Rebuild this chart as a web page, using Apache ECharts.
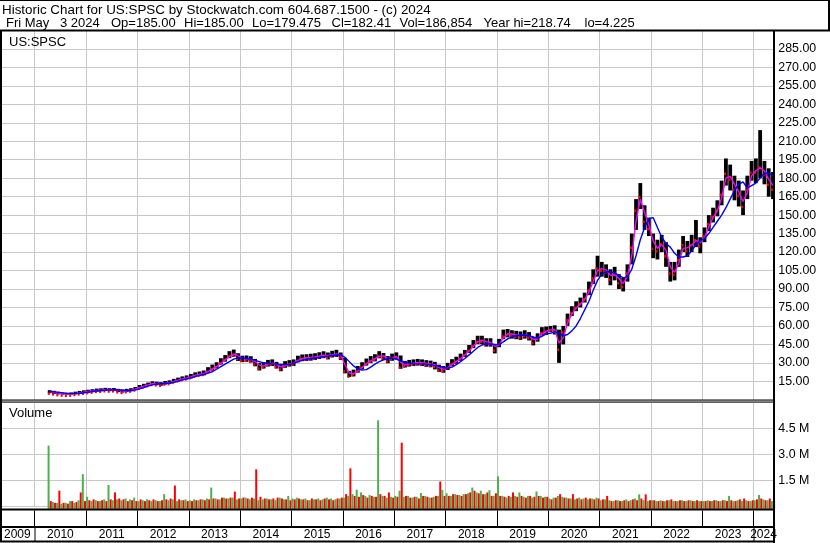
<!DOCTYPE html>
<html>
<head>
<meta charset="utf-8">
<script src="https://cdn.jsdelivr.net/npm/echarts@6/dist/echarts.min.js"></script>
<style>
  html, body { margin: 0; padding: 0; background: #fff; }
  #chart { width: 830px; height: 543px; }
</style>
</head>
<body>
<div id="chart"></div>
<script>
// monthly values, first month is April 2010
const firstMonth = [2010, 4];

// monthly close
const close = [
  6.4, 5.8, 5.2, 4.8, 4.6, 4.8, 5.3, 5.9, 6.4,
  6.9, 7.3, 7.8, 8.0, 8.4, 8.1, 8.3, 7.5, 7.0, 7.6, 8.1, 9.0,
  10.5, 11.6, 12.6, 13.5, 13.2, 12.8, 13.8, 14.2, 15.4, 16.4, 17.3, 18.0,
  19.0, 20.3, 21.0, 21.6, 24.0, 26.0, 27.8, 31.0, 33.5, 36.5, 37.8, 34.5,
  33.0, 33.2, 32.6, 30.0, 26.8, 27.8, 29.6, 30.0, 28.0, 26.0, 28.6, 29.5,
  30.0, 33.0, 34.0, 34.2, 34.5, 35.0, 35.8, 36.5, 35.5, 37.0, 37.6, 35.5,
  24.5, 20.2, 21.5, 24.5, 27.5, 30.5, 32.5, 34.0, 36.5, 35.0, 32.5, 34.5,
  35.5, 27.5, 28.8, 29.6, 30.0, 30.4, 30.0, 29.4, 29.0, 28.0, 25.0, 24.5,
  27.0, 30.0, 32.0, 34.5, 37.5, 41.0, 45.0, 48.5, 48.5, 46.5, 46.5, 41.5,
  46.0, 53.0, 54.0, 53.0, 52.5, 52.0, 53.0, 51.5, 47.5, 50.5, 55.5, 56.0,
  57.5, 57.0, 42.0, 56.0, 66.0, 72.0, 76.0, 79.0, 83.0, 90.0, 100, 108,
  106, 105, 99, 103, 96, 93, 104, 125, 155, 166, 146, 140,
  124, 122, 128, 118, 104, 103, 115, 127, 122, 127, 131, 126,
  134, 144, 150, 155, 168, 185, 180, 172, 167, 158, 172, 186,
  186, 190, 184, 176, 172
];

// monthly high
const high = [
  7.8, 7.3, 6.6, 6.0, 5.8, 6.0, 6.6, 7.2, 7.7,
  8.2, 8.6, 9.1, 9.3, 9.7, 9.4, 9.6, 8.9, 8.4, 8.9, 9.4, 10.4,
  12.0, 13.0, 14.0, 15.0, 14.7, 14.3, 15.3, 15.8, 17.0, 18.0, 19.0, 19.8,
  21.0, 22.3, 23.0, 23.8, 26.5, 28.6, 30.5, 33.8, 36.3, 39.5, 40.8, 37.8,
  35.8, 36.0, 35.4, 33.2, 30.0, 30.6, 32.4, 32.8, 30.8, 29.0, 31.4, 32.2,
  32.8, 35.8, 36.8, 37.0, 37.4, 37.8, 38.6, 39.4, 38.4, 39.8, 40.6, 38.4,
  34.0, 23.5, 24.5, 27.5, 30.5, 33.5, 35.5, 37.0, 39.5, 38.0, 35.5, 37.5,
  38.5, 36.0, 31.6, 32.4, 32.8, 33.2, 32.8, 32.2, 31.8, 30.8, 28.5, 27.5,
  30.0, 33.0, 35.0, 37.5, 40.5, 44.5, 48.5, 52.0, 52.0, 50.0, 50.0, 45.5,
  49.5, 57.0, 57.5, 56.5, 56.0, 55.5, 56.5, 55.0, 51.0, 54.0, 59.0, 59.5,
  60.0, 60.5, 57.0, 60.0, 70.0, 76.0, 80.0, 83.0, 87.0, 96.0, 106, 117,
  112, 110, 106, 108, 102, 99, 110, 135, 163, 176, 158, 148,
  135, 130, 134, 128, 112, 112, 122, 133, 129, 134, 146, 132,
  140, 150, 156, 162, 178, 196, 191, 182, 178, 170, 182, 194,
  196, 219, 194, 188, 185
];

// monthly low
const low = [
  5.3, 4.8, 4.4, 4.25, 4.23, 4.3, 4.5, 5.0, 5.4,
  5.8, 6.2, 6.7, 6.9, 7.2, 7.0, 7.1, 6.3, 5.9, 6.4, 6.9, 7.8,
  9.2, 10.2, 11.2, 12.1, 11.8, 11.4, 12.4, 12.8, 13.9, 14.9, 15.8, 16.5,
  17.3, 18.6, 19.2, 19.8, 22.0, 23.8, 25.6, 28.6, 31.0, 33.8, 35.0, 31.5,
  30.6, 30.8, 30.2, 27.2, 23.8, 25.4, 27.0, 27.4, 25.4, 23.2, 26.0, 27.0,
  27.4, 30.4, 31.4, 31.6, 31.8, 32.4, 33.2, 33.8, 32.8, 34.4, 34.8, 32.4,
  21.5, 18.5, 19.0, 22.0, 24.8, 27.8, 29.8, 31.2, 33.7, 32.2, 29.7, 31.7,
  32.7, 25.2, 26.2, 27.0, 27.4, 27.8, 27.4, 26.8, 26.4, 24.7, 22.7, 22.0,
  24.2, 27.2, 29.2, 31.7, 34.7, 38.0, 42.0, 45.2, 45.2, 43.2, 43.2, 37.7,
  42.7, 49.2, 50.7, 49.7, 49.2, 48.7, 49.7, 48.2, 44.2, 47.2, 52.2, 52.7,
  55.0, 53.0, 30.0, 45.0, 60.0, 68.0, 72.0, 75.0, 79.0, 85.0, 94.0, 100,
  100, 99, 93, 97, 90, 88, 96, 110, 138, 155, 138, 133,
  115, 114, 120, 108, 96, 97, 108, 120, 116, 120, 124, 119,
  128, 137, 144, 149, 158, 174, 170, 162, 157, 150, 163, 178,
  176, 180, 175, 165, 163
];

// short moving average (magenta)
const maFast = [
  6.5, 6.1, 5.5, 5.0, 4.7, 4.7, 5.1, 5.6, 6.2,
  6.7, 7.1, 7.6, 7.9, 8.2, 8.2, 8.2, 7.8, 7.2, 7.4, 7.9, 8.6,
  9.9, 11.1, 12.1, 13.1, 13.3, 13.0, 13.4, 14.0, 14.9, 16.0, 16.9, 17.7,
  18.6, 19.8, 20.7, 21.3, 23.0, 25.1, 27.0, 29.6, 32.4, 35.2, 37.2, 35.8,
  33.6, 33.1, 32.8, 31.1, 28.2, 27.4, 28.8, 29.8, 28.8, 26.8, 27.6, 29.1,
  29.8, 31.8, 33.6, 34.1, 34.4, 34.8, 35.5, 36.2, 35.9, 36.4, 37.3, 36.3,
  28.5, 21.8, 21.0, 23.2, 26.2, 29.2, 31.7, 33.4, 35.5, 35.6, 33.5, 33.8,
  35.2, 30.5, 28.4, 29.3, 29.8, 30.2, 30.2, 29.6, 29.2, 28.4, 26.2, 24.8,
  26.0, 28.8, 31.2, 33.5, 36.4, 39.6, 43.4, 47.0, 48.5, 47.3, 46.5, 43.5,
  44.5, 50.5, 53.6, 53.4, 52.7, 52.2, 52.6, 52.1, 49.0, 49.4, 53.6, 55.8,
  56.8, 57.2, 46.0, 50.5, 62.5, 69.8, 74.5, 77.8, 81.5, 87.5, 96.0, 105,
  106.5, 105.5, 101, 101.5, 98.5, 94.5, 100, 117, 145, 163, 152, 142,
  129, 123, 126, 121.5, 108, 103.5, 111, 123, 123.5, 125.5, 129.5, 127.5,
  131.5, 140.5, 148, 153.5, 164, 180, 181.5, 175, 169, 161, 168, 182,
  186, 188.5, 186, 179, 174
];

// long moving average (blue)
const maSlow = [
  6.6, 6.4, 6.0, 5.6, 5.2, 5.0, 5.0, 5.3, 5.7,
  6.2, 6.7, 7.2, 7.6, 7.9, 8.1, 8.2, 8.0, 7.7, 7.5, 7.6, 8.1,
  8.9, 10.0, 11.1, 12.1, 12.8, 13.1, 13.2, 13.6, 14.3, 15.2, 16.2, 17.0,
  17.8, 18.8, 19.8, 20.6, 21.6, 22.8, 24.8, 27.0, 29.0, 31.0, 33.0, 34.0,
  34.0, 33.5, 32.8, 32.0, 31.0, 30.0, 29.5, 29.2, 29.0, 28.8, 28.6, 28.8,
  29.5, 31.0, 32.0, 32.8, 33.5, 34.0, 34.5, 35.0, 35.5, 36.0, 36.4, 36.5,
  34.5, 31.0, 27.5, 25.0, 24.2, 24.5, 26.5, 29.0, 31.0, 32.5, 33.5, 33.8,
  33.0, 31.5, 30.5, 29.8, 29.3, 29.2, 29.2, 29.0, 28.5, 27.8, 27.2, 26.2,
  25.6, 26.5, 28.5, 31.0, 33.5, 36.5, 39.5, 42.5, 44.5, 45.5, 45.5, 44.8,
  44.8, 47.0, 49.5, 51.2, 52.0, 52.4, 52.6, 52.0, 51.0, 50.0, 51.5, 53.5,
  54.0, 55.3, 54.0, 52.0, 53.0, 56.0, 60.0, 66.0, 73.0, 80.0, 89.0, 97.0,
  102, 104, 104, 103, 101, 99, 100, 106, 117, 130, 140, 147,
  148, 140, 132, 127, 124, 119, 116, 116, 117, 121, 126, 129,
  131, 135, 140, 145, 150, 156, 163, 170, 175, 177, 172, 174,
  176, 180, 184, 184, 182
];

// volume on up days / down days, millions
const volUp = [
  3.5, 0.25, 0.2, 0.15, 0.2, 0.3, 0.2, 0.35, 1.85,
  0.55, 0.3, 0.35, 0.3, 0.4, 1.23, 0.35, 0.4, 0.35, 0.45, 0.4, 0.5,
  0.3, 0.35, 0.4, 0.3, 0.35, 0.3, 0.7, 0.35, 0.4, 0.3, 0.35, 0.4,
  0.35, 0.4, 0.35, 0.4, 0.45, 1.08, 0.45, 0.4, 0.5, 0.45, 0.5, 0.4,
  0.45, 0.5, 0.4, 0.45, 0.35, 0.4, 0.45, 0.4, 0.35, 0.5, 0.4, 0.6,
  0.45, 0.5, 0.4, 0.45, 0.35, 0.4, 0.45, 0.4, 0.5, 0.45, 0.4, 0.45,
  0.5, 0.6, 0.7, 0.96, 0.8, 0.6, 0.65, 0.55, 4.96, 0.6, 0.5, 0.55,
  0.6, 0.9, 0.55, 0.6, 0.5, 0.55, 0.77, 0.6, 0.5, 0.55, 0.6, 0.95,
  0.75, 0.6, 0.7, 0.65, 0.7, 0.75, 1.08, 0.8, 0.9, 0.7, 0.93, 0.6,
  1.73, 0.6, 0.5, 0.55, 0.6, 0.8, 0.55, 0.6, 0.5, 0.86, 0.6, 0.55,
  0.45, 0.5, 0.6, 0.55, 0.5, 0.45, 0.4, 0.5, 0.45, 0.4, 0.45, 0.5,
  0.35, 0.4, 0.35, 0.3, 0.35, 0.3, 0.4, 0.35, 0.45, 0.69, 0.35, 0.3,
  0.35, 0.3, 0.35, 0.3, 0.35, 0.3, 0.3, 0.35, 0.3, 0.35, 0.3, 0.3,
  0.3, 0.35, 0.3, 0.35, 0.3, 0.35, 0.6, 0.3, 0.35, 0.3, 0.35, 0.3,
  0.35, 0.65, 0.4, 0.35, 0.3
];
const volDown = [
  0.3, 0.2, 0.9, 0.2, 0.15, 0.3, 0.25, 0.8, 0.3,
  0.35, 0.4, 0.3, 0.35, 0.3, 0.4, 0.8, 0.45, 0.4, 0.3, 0.35, 0.3,
  0.4, 0.3, 0.35, 0.4, 0.3, 0.35, 0.4, 0.45, 1.2, 0.4, 0.35, 0.3,
  0.3, 0.35, 0.4, 0.35, 0.4, 0.45, 0.4, 0.5, 0.45, 0.5, 0.85, 0.45,
  0.5, 0.45, 0.5, 2.13, 0.55, 0.45, 0.4, 0.45, 0.5, 0.45, 0.4, 0.35,
  0.4, 0.45, 0.4, 0.35, 0.45, 0.4, 0.35, 0.45, 0.4, 0.35, 0.45, 0.5,
  0.7, 2.19, 0.6, 0.55, 0.65, 0.5, 0.6, 0.55, 0.7, 0.6, 0.8, 0.5,
  0.55, 3.67, 0.6, 0.5, 0.55, 0.45, 0.6, 0.55, 0.5, 0.6, 1.43, 0.6,
  0.6, 0.7, 0.65, 0.6, 0.7, 0.8, 0.9, 0.75, 0.7, 0.8, 0.6, 0.75,
  0.6, 0.55, 0.6, 0.8, 0.55, 0.6, 0.5, 0.6, 0.55, 0.6, 0.5, 0.55,
  0.4, 0.5, 0.7, 0.5, 0.45, 0.7, 0.45, 0.4, 0.5, 0.45, 0.4, 0.45,
  0.4, 0.6, 0.3, 0.35, 0.3, 0.35, 0.3, 0.4, 0.35, 0.45, 0.69, 0.35,
  0.35, 0.3, 0.3, 0.35, 0.4, 0.3, 0.35, 0.3, 0.35, 0.3, 0.35, 0.3,
  0.3, 0.3, 0.35, 0.3, 0.35, 0.3, 0.35, 0.3, 0.4, 0.45, 0.3, 0.35,
  0.4, 0.45, 0.35, 0.45, 0.3
];

const yearLabels = ['2009', '2010', '2011', '2012', '2013', '2014', '2015', '2016',
  '2017', '2018', '2019', '2020', '2021', '2022', '2023', '2024'];

const headerLine1 = 'Historic Chart for US:SPSC by Stockwatch.com 604.687.1500 - (c) 2024';
const headerLine2 = [
  ['Fri May', 6], ['3 2024', 60], ['Op=185.00', 111], ['Hi=185.00', 184],
  ['Lo=179.475', 252], ['Cl=182.41', 331.5], ['Vol=186,854', 399.5],
  ['Year hi=218.74', 483.5], ['lo=4.225', 584.5]
];

const FONT = '"Liberation Sans", Arial, sans-serif';
const X_MIN = 2009, X_MAX = 2024.381, X_VIS0 = 2009.324;
const GRID_LEFT = -16.66, GRID_RIGHT = 56.7;
const GRAY = '#c8c8c8';

// month -> fractional year (middle of the month)
const monthTime = close.map((_, i) => {
  const m = firstMonth[1] - 1 + i;
  return firstMonth[0] + (m + 0.5) / 12;
});
const priceData = monthTime.map((t, i) => [t, high[i], low[i], close[i]]);
const volData = monthTime.map((t, i) => [t, volUp[i], volDown[i]]);
const yearPos = yearLabels.map(y => {
  const a = Math.max(+y, X_VIS0), b = Math.min(+y + 1, X_MAX);
  return (a + b) / 2;
});

const chart = echarts.init(document.getElementById('chart'));

function timeAxis(gridIndex, lineColor) {
  return {
    type: 'value', gridIndex: gridIndex, min: X_MIN, max: X_MAX, interval: 1,
    axisLine: { show: false }, axisTick: { show: false }, axisLabel: { show: false },
    splitLine: { show: true, lineStyle: { color: lineColor, width: 1 } }
  };
}

const option = {
  animation: false,
  backgroundColor: '#fff',
  grid: [
    { left: GRID_LEFT, right: GRID_RIGHT, top: 30.4, height: 369.4, containLabel: false, outerBoundsMode: 'none' },
    { left: GRID_LEFT, right: GRID_RIGHT, top: 402.3, height: 104, containLabel: false, outerBoundsMode: 'none' },
    { left: GRID_LEFT, right: GRID_RIGHT, top: 510.5, height: 16, containLabel: false, outerBoundsMode: 'none' }
  ],
  xAxis: [
    timeAxis(0, GRAY),
    timeAxis(1, GRAY),
    Object.assign(timeAxis(2, '#000'), {
      position: 'bottom',
      axisLabel: {
        show: true, customValues: yearPos, margin: 2,
        color: '#000', fontFamily: FONT, fontSize: 12,
        formatter: v => String(Math.floor(v + 1e-6))
      }
    })
  ],
  yAxis: [
    {
      type: 'value', gridIndex: 0, position: 'right', min: 0, max: 300, interval: 15,
      axisLine: { show: false }, axisTick: { show: false },
      splitLine: { lineStyle: { color: GRAY, width: 1 } },
      axisLabel: {
        margin: 5, color: '#000', fontFamily: FONT, fontSize: 12.4,
        formatter: v => (v <= 0 || v >= 300) ? '' : v.toFixed(2)
      }
    },
    {
      type: 'value', gridIndex: 1, position: 'right', min: 0, max: 6, interval: 1.5,
      axisLine: { show: false }, axisTick: { show: false },
      splitLine: { lineStyle: { color: GRAY, width: 1 } },
      axisLabel: {
        margin: 5, color: '#000', fontFamily: FONT, fontSize: 12.4,
        formatter: v => (v <= 0 || v >= 6) ? '' : v.toFixed(1) + ' M'
      }
    },
    { type: 'value', gridIndex: 2, show: false, min: 0, max: 1, splitLine: { show: false } }
  ],
  series: [
    {
      type: 'custom', name: 'price', xAxisIndex: 0, yAxisIndex: 0,
      data: priceData, encode: { x: 0, y: [1, 2, 3] },
      renderItem: (params, api) => {
        const t = api.value(0);
        const top = api.coord([t, api.value(1)]);
        const bot = api.coord([t, api.value(2)]);
        const c = api.coord([t, api.value(3)]);
        return {
          type: 'group',
          children: [
            { type: 'rect', shape: { x: top[0] - 1.9, y: top[1], width: 3.8, height: Math.max(bot[1] - top[1], 1) }, style: { fill: '#000' } },
            { type: 'rect', shape: { x: c[0] - 1.9, y: c[1] + 0.5, width: 2, height: 2.5 }, style: { fill: '#ff0000' } }
          ]
        };
      }
    },
    {
      type: 'line', name: 'ma fast', xAxisIndex: 0, yAxisIndex: 0,
      data: monthTime.map((t, i) => [t, maFast[i]]),
      showSymbol: false, lineStyle: { color: '#ff00ff', width: 1.4 }
    },
    {
      type: 'line', name: 'ma slow', xAxisIndex: 0, yAxisIndex: 0,
      data: monthTime.map((t, i) => [t, maSlow[i]]),
      showSymbol: false, lineStyle: { color: '#0000ff', width: 1.4 }
    },
    {
      type: 'custom', name: 'volume', xAxisIndex: 1, yAxisIndex: 1,
      data: volData, encode: { x: 0, y: [1, 2] },
      renderItem: (params, api) => {
        const t = api.value(0);
        const base = api.coord([t, 0]);
        const up = api.coord([t, api.value(1)]);
        const dn = api.coord([t, api.value(2)]);
        const bottom = base[1] + 2.5;
        return {
          type: 'group',
          children: [
            { type: 'rect', shape: { x: up[0] - 2.1, y: up[1], width: 2, height: bottom - up[1] }, style: { fill: '#4cb04c' } },
            { type: 'rect', shape: { x: dn[0] + 0.1, y: dn[1], width: 2, height: bottom - dn[1] }, style: { fill: '#ff0000' } }
          ]
        };
      }
    }
  ]
};
chart.setOption(option);

// frame lines and texts of the page
const rects = [
  [0, 0, 830, 1],
  [0, 29.5, 830, 2],
  [828, 0, 2, 31],
  [0, 31, 2, 511],
  [773, 31, 2, 512],
  [0, 399.5, 773, 1],
  [0, 401.5, 773, 1],
  [0, 508.5, 773, 2],
  [0, 526, 773, 2],
  [0, 540.5, 775, 2]
];
const graphic = rects.map(r => ({
  type: 'rect', silent: true, z: 100,
  shape: { x: r[0], y: r[1], width: r[2], height: r[3] },
  style: { fill: '#000' }
}));
// separators in the year label row
[2010, 2024].forEach(y => {
  const x = chart.convertToPixel({ xAxisIndex: 2 }, y);
  graphic.push({ type: 'rect', silent: true, z: 100, shape: { x: Math.round(x) - 0.5, y: 527, width: 1, height: 14 }, style: { fill: '#000' } });
});
function label(text, x, y, size) {
  return { type: 'text', silent: true, z: 100, x: x, y: y,
    style: { text: text, fill: '#000', font: size + 'px ' + FONT, verticalAlign: 'middle', align: 'left' } };
}
graphic.push(label(headerLine1, 2, 10.5, 13.4));
headerLine2.forEach(p => graphic.push(label(p[0], p[1], 23, 13)));
graphic.push(label('US:SPSC', 9, 42, 13));
graphic.push(label('Volume', 9, 413, 13));

chart.setOption({ graphic: graphic });
</script>
</body>
</html>
